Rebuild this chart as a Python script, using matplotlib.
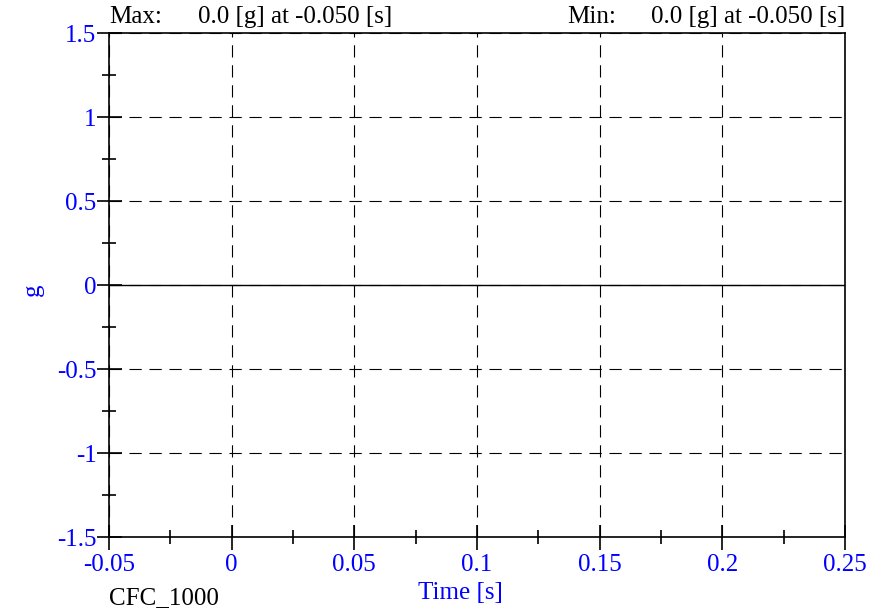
import matplotlib.pyplot as plt
import numpy as np

# Data: flat CFC_1000 channel, all zero over the time window
time_s = [-0.05, 0.0, 0.05, 0.1, 0.15, 0.2, 0.25]
accel_g = [0.0, 0.0, 0.0, 0.0, 0.0, 0.0, 0.0]

xticks = [-0.05, 0, 0.05, 0.1, 0.15, 0.2, 0.25]
xtick_labels = ['-0.05', '0', '0.05', '0.1', '0.15', '0.2', '0.25']
yticks = [-1.5, -1, -0.5, 0, 0.5, 1, 1.5]
ytick_labels = ['-1.5', '-1', '-0.5', '0', '0.5', '1', '1.5']

plt.rcParams['font.family'] = ['Liberation Serif', 'DejaVu Serif']
fs = 18

fig = plt.figure(figsize=(8.86, 6.15), dpi=100)
ax = fig.add_axes([109 / 886, 1 - 537 / 615, (845 - 109) / 886, (537 - 33) / 615])

ax.plot(time_s, accel_g, color='black', lw=1.0, zorder=3)

ax.set_xlim(-0.05, 0.25)
ax.set_ylim(-1.5, 1.5)
ax.set_xticks(xticks)
ax.set_xticklabels(xtick_labels)
ax.set_yticks(yticks)
ax.set_yticklabels(ytick_labels)
ax.set_xticks(np.arange(-0.025, 0.25, 0.05), minor=True)
ax.set_yticks(np.arange(-1.25, 1.5, 0.5), minor=True)

ax.tick_params(which='major', direction='inout', length=18, width=1.2, colors='black',
               labelcolor='blue', labelsize=fs)
ax.tick_params(axis='x', which='major', pad=3)
ax.tick_params(axis='y', which='major', pad=0)
ax.tick_params(which='minor', direction='inout', length=10, width=1.2, colors='black')

ax.grid(True, which='major', color='black', lw=0.8, linestyle=(0, (11, 7)))

for sp in ax.spines.values():
    sp.set_linewidth(1.2)

xl = ax.set_xlabel('Time [s]', color='blue', fontsize=fs)
yl = ax.set_ylabel('g', color='blue', fontsize=fs)
ax.xaxis.set_label_coords((460 - 109) / 736, (537 - 593) / 504)
ax.yaxis.set_label_coords((33 - 109) / 736, (537 - 290) / 504)
xl.set_va('center')
yl.set_va('center')

# header / footer texts
fig.text(109 / 886, 1 - 17 / 615, 'Max:', ha='left', va='center', fontsize=fs)
fig.text(392 / 886, 1 - 17 / 615, '0.0 [g] at -0.050 [s]', ha='right', va='center', fontsize=fs)
fig.text(567 / 886, 1 - 17 / 615, 'Min:', ha='left', va='center', fontsize=fs)
fig.text(845 / 886, 1 - 17 / 615, '0.0 [g] at -0.050 [s]', ha='right', va='center', fontsize=fs)
fig.text(109 / 886, 1 - 598 / 615, 'CFC_1000', ha='left', va='center', fontsize=fs)

fig.savefig('out.png', dpi=100)
